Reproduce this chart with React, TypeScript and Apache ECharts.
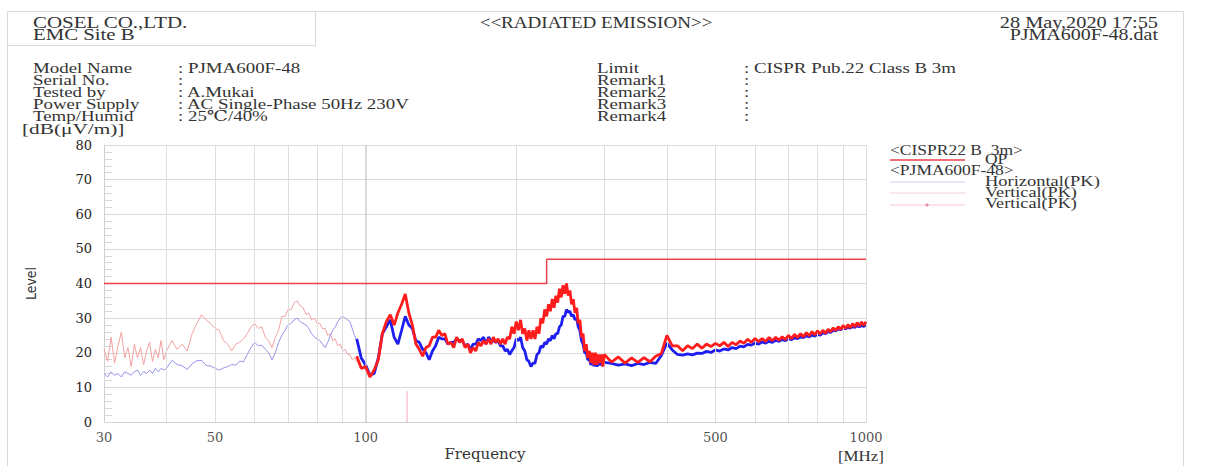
import React, { useEffect, useRef } from "react";
import * as echarts from "echarts";

// ---------- data ----------
const lowFreq = [
  30, 30.5, 31, 31.5, 32, 32.5, 33, 33.5, 34, 34.5,
  35, 35.5, 36, 36.5, 37, 37.5, 38, 38.5, 39, 39.5,
  40, 41, 42, 43, 44, 45, 46, 47, 48, 49,
  50, 51, 52, 53, 54, 55, 56, 57, 58, 59,
  60, 61, 62, 63, 64, 65, 66, 67, 68, 69,
  70, 71, 72, 73, 74, 75, 76, 77, 78, 79,
  80, 81, 82, 83, 84, 85, 86, 87, 88, 89,
  90, 91, 92, 93, 94, 95, 96, 97, 98, 99,
  100,
];
const verticalLow = [
  21, 17.5, 24.5, 17, 22, 26, 18.5, 21.5, 16, 22.5,
  18.5, 21.5, 16.5, 20.5, 23, 17.5, 21, 18.5, 23.5, 18,
  20.5, 23.5, 21, 22.5, 20.5, 25.5, 28.5, 31, 29.5, 28.5,
  27, 26.5, 23.5, 22.5, 20.5, 22.5, 23, 24, 25.5, 27.5,
  28.5, 27, 27.5, 24.5, 23.5, 21.5, 24.5, 26.5, 30.5, 30.5,
  32.5, 32.5, 34.5, 35, 33.5, 33, 31, 31.5, 29.5, 30,
  28.5, 28.5, 27, 27, 25, 25.5, 23.5, 24, 22, 22.5,
  20.5, 21, 19.5, 19.5, 18, 18.5, 17.5, 17, 16, 15.5,
  15,
];
const horizontalLow = [
  14, 13, 14.5, 13.5, 14, 13, 14.5, 14, 13.5, 14.5,
  15, 13.5, 14.5, 14, 15, 14, 15.5, 14.5, 15.5, 15,
  15.5, 17.8, 16.6, 16.2, 15.2, 16.8, 17.7, 17.8, 16.3, 16.2,
  15.5, 15, 15.6, 16, 16.6, 16.4, 17.6, 17.4, 19.5, 21.5,
  23, 22, 22.2, 21, 20, 18, 20, 23, 25, 26.5,
  28, 28.5, 29.5, 30, 29, 28.5, 28, 27, 25.5, 24.5,
  24, 23.5, 22.5, 21.5, 23, 25, 26.5, 27.5, 29, 30,
  30.5, 30, 29.5, 29, 27, 25, 23.5, 21, 19, 17,
  15,
];
const highFreq = [
  96, 98, 100, 102, 104, 106, 108, 110, 112, 114,
  116, 118, 120, 122, 124, 126, 128, 130, 132, 134,
  136, 138, 140, 142, 144, 146, 148, 150, 152, 154,
  156, 158, 160, 162, 164, 166, 168, 170, 172, 174,
  176, 178, 180, 182, 184, 186, 188, 190, 192, 194,
  196, 198, 200, 202, 204, 206, 208, 210, 212, 214,
  216, 218, 220, 222, 224, 226, 228, 230, 232, 234,
  236, 238, 240, 242, 244, 246, 248, 250, 252, 254,
  256, 258, 260, 262, 264, 266, 268, 270, 272, 274,
  276, 278, 280, 282, 284, 286, 288, 290, 292, 294,
  296, 298, 300,
  310, 320, 330, 340, 350, 360, 370, 380, 390, 400,
  410, 420, 430, 440, 450, 460, 470, 480, 490, 500,
  510, 520, 530, 540, 550, 560, 570, 580, 590, 600,
  610, 620, 630, 640, 650, 660, 670, 680, 690, 700,
  710, 720, 730, 740, 750, 760, 770, 780, 790, 800,
  810, 820, 830, 840, 850, 860, 870, 880, 890, 900,
  910, 920, 930, 940, 950, 960, 970, 980, 990, 1000,
];
const verticalHigh = [
  19, 15.5, 16, 13, 15, 18, 25.5, 29, 31, 28,
  31.5, 34, 37, 31.5, 28, 22.5, 21, 19, 21.5, 22,
  24.5, 24.5, 26.5, 25, 25.5, 22.5, 23, 21.5, 24.5, 23,
  24, 21.5, 22.5, 20, 21.5, 20.5, 23, 22, 23.5, 22.5,
  24, 22.5, 24.5, 23, 24, 22.5, 24, 22.5, 24.5, 24,
  27.5, 25.5, 29, 26.5, 29.5, 25.5, 27, 23.5, 26.5, 24,
  26.5, 24, 27.5, 25.5, 30, 28.5, 32.5, 30.5, 34, 32,
  35.5, 33, 36.5, 34.5, 38.5, 36, 39.5, 37, 40, 36.5,
  38, 34, 35.5, 31.5, 33, 28.5, 29.5, 24.5, 25.5, 20.5,
  22.5, 18.5, 20.5, 17, 20, 16.5, 20, 16.5, 19.5, 17,
  19.5, 16, 19.5,
  17.3, 18.8, 17, 18.5, 17.2, 18.6, 17.4, 19, 19.8, 25,
  22, 22, 20.6, 22, 21.2, 22.5, 21.3, 22.5, 21.8, 22.7,
  22, 23, 21.8, 23, 22.3, 23.4, 22.7, 23.9, 23, 24.1,
  23.2, 24.1, 23.3, 24.4, 23.5, 24.5, 23.6, 24.6, 23.8, 25,
  24.1, 25.3, 24.4, 25.5, 24.6, 25.8, 24.9, 26.1, 25.2, 26.3,
  25.4, 26.5, 25.6, 26.8, 26.1, 27.2, 26.4, 27.5, 26.7, 27.9,
  27, 28.1, 27.2, 28.4, 27.5, 28.7, 27.7, 28.9, 27.9, 29,
];
const horizontalHigh = [
  24, 18.5, 16.5, 13.5, 14, 18.5, 25.5, 27.5, 29.5, 24.5,
  22.5, 26.5, 30.5, 28, 27, 23.5, 23, 21, 20, 18,
  20.5, 22, 24.5, 24, 24, 22.5, 23, 23, 24, 23.5,
  23.5, 22, 22.5, 21, 22.5, 22.5, 24, 23.5, 24.5, 22.5,
  24.5, 23.5, 23.5, 23, 23.5, 22, 22, 20.5, 21, 19.5,
  20.6, 21.5, 24, 23.5, 24.5, 21.5, 20.5, 18, 17.5, 16,
  17, 17, 19.5, 20, 22, 21.5, 23, 22.5, 24, 23.5,
  25, 24, 25.5, 25.5, 27.5, 28, 30.5, 30.5, 32.5, 31.7,
  32, 30.5, 31, 29.5, 30, 27.5, 26.5, 23.5, 22.5, 20,
  20, 18, 18, 16.5, 17.3, 16.2, 17.3, 16, 17.2, 16.5,
  17.1, 16.3, 17.2,
  16.9, 16.4, 16.8, 16.3, 16.9, 16.6, 17.2, 16.9, 19.2, 22.8,
  20.8, 19.5, 19.3, 19.7, 19.4, 19.9, 19.8, 20.4, 20.1, 20.8,
  20.5, 21.1, 20.8, 21.5, 21.2, 21.9, 21.7, 22.4, 22.2, 22.8,
  22.5, 23.1, 22.8, 23.3, 23, 23.6, 23.3, 23.8, 23.5, 24.1,
  23.8, 24.3, 24.1, 24.6, 24.4, 24.9, 24.6, 25.1, 24.8, 25.3,
  25.1, 25.7, 25.5, 26.1, 25.9, 26.5, 26.3, 26.9, 26.7, 27.2,
  26.9, 27.4, 27.1, 27.6, 27.3, 27.8, 27.5, 27.9, 27.6, 28,
];
const limitFreq = [30, 230, 230, 1000];
const limitLevel = [40, 40, 47, 47];
const markerFreq = [121, 121];
const markerLevel = [0, 9];
const xTickLabels = [30, 50, 100, 500, 1000];
const xGridMinor = [40, 50, 60, 70, 80, 90, 200, 300, 400, 500, 600, 700, 800, 900, 1000];
const xGridMajor = [100];

const infoLeftLabels = ["Model Name", "Serial No.", "Tested by", "Power Supply", "Temp/Humid"];
const infoLeftValues = [": PJMA600F-48", ":", ": A.Mukai", ": AC Single-Phase 50Hz 230V", ": 25℃/40%"];
const infoRightLabels = ["Limit", "Remark1", "Remark2", "Remark3", "Remark4"];
const infoRightValues = [": CISPR Pub.22 Class B 3m", ":", ":", ":", ":"];
const infoRowY = [68.5, 80.5, 92.3, 104.2, 116];

// ---------- helpers ----------
const SERIF = "'Liberation Serif', 'DejaVu Serif', serif";
const AXIS_SERIF = "'DejaVu Serif', 'Liberation Serif', serif";
const pairs = (xs: number[], ys: number[]) => xs.map((x, i) => [x, ys[i]]);

const txt = (text: string, x: number, y: number, size: number, align = "left", sx = 1.25, color = "#333") => ({
  type: "text",
  x,
  y,
  scaleX: sx,
  silent: true,
  style: {
    text,
    font: `${size}px ${SERIF}`,
    fill: color,
    align,
    textAlign: align,
    verticalAlign: "middle",
    textVerticalAlign: "middle",
  },
});
const ln = (x1: number, y1: number, x2: number, y2: number, stroke: string, w = 1) => ({
  type: "line",
  silent: true,
  shape: { x1, y1, x2, y2 },
  style: { stroke, lineWidth: w },
});

export default function App() {
  const ref = useRef<HTMLDivElement>(null);
  useEffect(() => {
    if (!ref.current) return;
    const chart = echarts.init(ref.current, undefined, { renderer: "svg" });
    const frame = "#d9d9d9";
    const graphic: any[] = [
      ln(7.5, 11.5, 1183.5, 11.5, frame),
      ln(7.5, 11.5, 7.5, 466, frame),
      ln(1183.5, 11.5, 1183.5, 466, frame),
      ln(7.5, 45.5, 315.5, 45.5, frame),
      ln(315.5, 11.5, 315.5, 45.5, frame),
      txt("COSEL CO.,LTD.", 33, 22.7, 16, "left", 1.31),
      txt("EMC Site B", 33, 34.3, 16, "left", 1.3),
      txt("<<RADIATED EMISSION>>", 596, 22.7, 16, "center", 1.19),
      txt("28 May,2020 17:55", 1158, 22.7, 16, "right", 1.27),
      txt("PJMA600F-48.dat", 1158, 34.3, 16, "right", 1.25),
      txt("[dB(μV/m)]", 22, 129.5, 15, "left", 1.42),
      txt("[MHz]", 884, 456, 15, "right", 1.13),
      // legend
      txt("<CISPR22 B  3m>", 890, 150, 14, "left", 1.25),
      ln(890, 160, 965, 160, "#e8424a", 1.5),
      txt("QP", 985, 159.5, 14, "left", 1.25),
      txt("<PJMA600F-48>", 890, 170, 14, "left", 1.25),
      ln(890, 182, 965, 182, "#cfcff2", 1),
      txt("Horizontal(PK)", 985, 181, 14, "left", 1.32),
      ln(890, 193, 965, 193, "#f2d2d2", 1),
      txt("Vertical(PK)", 985, 192.5, 14, "left", 1.3),
      ln(890, 205, 965, 205, "#f6c4d8", 1),
      {
        type: "circle",
        silent: true,
        shape: { cx: 927, cy: 205, r: 1.6 },
        style: { fill: "#e88ab8" },
      },
      txt("Vertical(PK)", 985, 204, 14, "left", 1.3),
    ];
    infoLeftLabels.forEach((t, i) => graphic.push(txt(t, 33, infoRowY[i], 15, "left", 1.26)));
    infoLeftValues.forEach((t, i) => graphic.push(txt(t, 178, infoRowY[i], 15, "left", 1.26)));
    infoRightLabels.forEach((t, i) => graphic.push(txt(t, 597, infoRowY[i], 15, "left", 1.26)));
    infoRightValues.forEach((t, i) => graphic.push(txt(t, 744, infoRowY[i], 15, "left", 1.26)));

    const option: any = {
      animation: false,
      backgroundColor: "#ffffff",
      grid: { left: 104, right: 340, top: 145, bottom: 42, containLabel: false },
      xAxis: {
        type: "log",
        logBase: 10,
        min: 30,
        max: 1000,
        name: "Frequency",
        nameLocation: "middle",
        nameGap: 24,
        nameTextStyle: { fontFamily: AXIS_SERIF, fontSize: 15, color: "#333" },
        axisLine: { show: true, lineStyle: { color: "#cfcfcf", width: 1 } },
        axisTick: { show: false },
        axisLabel: { show: false },
        splitLine: { show: false },
        minorSplitLine: { show: false },
      },
      yAxis: {
        type: "value",
        min: 0,
        max: 80,
        interval: 10,
        name: "Level",
        nameLocation: "middle",
        nameGap: 66,
        nameTextStyle: {
          fontFamily: "'DejaVu Sans Condensed', 'Liberation Sans Narrow', 'DejaVu Sans', sans-serif",
          fontSize: 14,
          color: "#333",
        },
        axisLine: { show: true, lineStyle: { color: "#cfcfcf", width: 1 } },
        axisTick: { show: true, inside: true, length: 10, lineStyle: { color: "#d6d6d6" } },
        minorTick: { show: true, splitNumber: 5, length: 8, lineStyle: { color: "#d6d6d6" } },
        axisLabel: { margin: 12, fontFamily: AXIS_SERIF, fontSize: 13, color: "#222" },
        splitLine: { show: true, lineStyle: { color: "#dcdcdc", width: 1 } },
      },
      series: [
        {
          type: "scatter",
          name: "ticks",
          data: xTickLabels.map((v) => [v, 0]),
          symbol: "circle",
          symbolSize: 1,
          itemStyle: { color: "rgba(0,0,0,0)" },
          silent: true,
          clip: false,
          z: 1,
          label: {
            show: true,
            position: "bottom",
            distance: 8,
            formatter: (p: any) => String(p.value[0]),
            fontFamily: AXIS_SERIF,
            fontSize: 13,
            color: "#222",
          },
          markLine: {
            silent: true,
            symbol: "none",
            label: { show: false },
            animation: false,
            data: [
              ...xGridMinor.map((f) => ({ xAxis: f, lineStyle: { color: "#dedede", width: 1, type: "solid" } })),
              ...xGridMajor.map((f) => ({ xAxis: f, lineStyle: { color: "#cdcdcd", width: 1.5, type: "solid" } })),
            ],
          },
        },
        {
          type: "line",
          name: "Vertical(PK) low",
          data: pairs(lowFreq, verticalLow),
          symbol: "none",
          silent: true,
          lineStyle: { color: "#f3a2a2", width: 1 },
          z: 3,
        },
        {
          type: "line",
          name: "Horizontal(PK) low",
          data: pairs(lowFreq, horizontalLow),
          symbol: "none",
          silent: true,
          lineStyle: { color: "#9494ea", width: 1 },
          z: 3,
        },
        {
          type: "line",
          name: "Horizontal(PK)",
          data: pairs(highFreq, horizontalHigh),
          symbol: "none",
          silent: true,
          lineStyle: { color: "#1e1ef0", width: 2.8 },
          z: 4,
        },
        {
          type: "line",
          name: "Vertical(PK)",
          data: pairs(highFreq, verticalHigh),
          symbol: "none",
          silent: true,
          lineStyle: { color: "#ff1c1c", width: 2.8 },
          z: 5,
        },
        {
          type: "line",
          name: "marker",
          data: pairs(markerFreq, markerLevel),
          symbol: "none",
          silent: true,
          lineStyle: { color: "#f2a6cc", width: 1 },
          z: 5,
        },
        {
          type: "line",
          name: "QP",
          data: pairs(limitFreq, limitLevel),
          symbol: "none",
          silent: true,
          lineStyle: { color: "#e8424a", width: 1.5 },
          z: 6,
        },
      ],
      graphic,
    };
    chart.setOption(option);
    return () => chart.dispose();
  }, []);
  return (
    <div
      ref={ref}
      style={{ position: "absolute", left: 0, top: 0, width: 1206, height: 466, background: "#fff" }}
    />
  );
}
